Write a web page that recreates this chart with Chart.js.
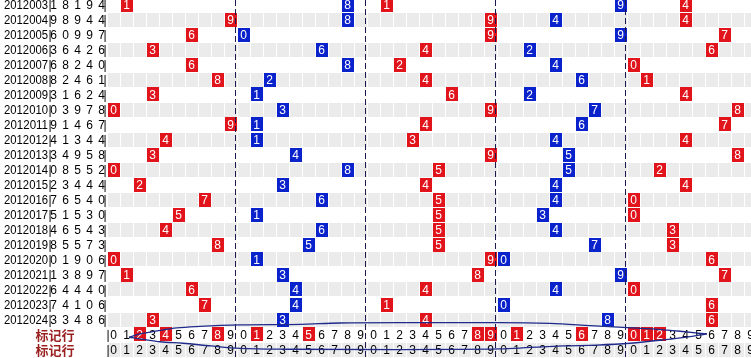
<!DOCTYPE html>
<html lang="zh">
<head>
  <meta charset="UTF-8" />
  <title>走势图</title>
  <script src="https://cdn.jsdelivr.net/npm/chart.js"></script>
  <style>
    html, body { margin: 0; padding: 0; background: #fff; }
    canvas { display: block; }
  </style>
</head>
<body>
  <canvas id="chart" width="751" height="358"></canvas>
  <script>
    // 期号 + 每期五位开奖号码
    const issues = ["2012003","2012004","2012005","2012006","2012007","2012008","2012009","2012010",
      "2012011","2012012","2012013","2012014","2012015","2012016","2012017","2012018","2012019",
      "2012020","2012021","2012022","2012023","2012024"];
    const digit1 = [1,9,6,3,6,8,3,0,9,4,3,0,2,7,5,4,8,0,1,6,7,3];
    const digit2 = [8,8,0,6,8,2,1,3,1,1,4,8,3,6,1,6,5,1,3,4,4,3];
    const digit3 = [1,9,9,4,2,4,6,9,4,3,9,5,4,5,5,5,5,9,8,4,1,4];
    const digit4 = [9,4,9,2,4,6,2,7,6,4,5,5,4,4,3,4,7,0,9,4,0,8];
    const digit5 = [4,4,7,6,0,1,4,8,7,4,8,2,4,0,0,3,3,6,7,0,6,6];
    const digitLabels = ["0","1","2","3","4","5","6","7","8","9"];
    const markLabel = "标记行";
    // 标记行里被标红的号码（每位一组）
    const markHits = [[2,4,8],[1,5],[8,9],[1,6],[0,1,2]];
    // 手画的圈（列 / 行 单位）
    const loopTopX = [1.69, 2.54, 3.85, 5.38, 7.15, 10.23, 14.85, 17.92, 22.54, 30.23, 34.08, 37.15, 39.69, 42.31, 44.08, 46.15];
    const loopTopY = [22.15, 21.93, 21.73, 21.53, 21.43, 21.33, 21.29, 21.2, 21.18, 21.18, 21.23, 21.37, 21.49, 21.62, 21.75, 21.93];
    const loopBotX = [1.69, 2.77, 4.08, 5.85, 8.0, 10.23, 13.85, 22.54, 30.23, 32.54, 35.08, 37.69, 40.23, 42.77, 44.85, 46.15];
    const loopBotY = [22.15, 22.29, 22.45, 22.55, 22.73, 22.89, 22.95, 22.97, 22.93, 22.83, 22.73, 22.67, 22.55, 22.33, 22.11, 21.93];

    const digits = [digit1, digit2, digit3, digit4, digit5];
    const RED = "#e1131b", BLUE = "#0a22cc", GRAY = "#ebebeb";
    const groupColors = [RED, BLUE, RED, BLUE, RED];
    const FONT = '12px "Liberation Sans", Arial, sans-serif';

    const gridPlugin = {
      id: "grid",
      beforeDatasetsDraw(chart) {
        const { ctx, scales: { x, y } } = chart;
        const colW = x.getPixelForValue(1) - x.getPixelForValue(0);
        const rowH = y.getPixelForValue(1) - y.getPixelForValue(0);
        const nRows = issues.length + 2;
        const rect = (c, r) => [Math.round(x.getPixelForValue(c)) + 1, Math.round(y.getPixelForValue(r - 0.5)), Math.round(colW) - 1, Math.round(rowH) - 1];
        const cx = c => x.getPixelForValue(c + 0.5);
        const cy = r => y.getPixelForValue(r) + 0.5;
        const left = x.left;
        ctx.save();
        // 隔行灰底
        ctx.fillStyle = GRAY;
        for (let r = 1; r < nRows; r += 2) {
          for (let c = 0; c < 50; c++) ctx.fillRect(...rect(c, r));
        }
        ctx.font = FONT;
        ctx.textBaseline = "middle";
        // 开奖号码方块
        ctx.textAlign = "center";
        issues.forEach((_, r) => {
          digits.forEach((arr, g) => {
            const c = g * 10 + arr[r];
            ctx.fillStyle = groupColors[g];
            ctx.fillRect(...rect(c, r));
            ctx.fillStyle = "#fff";
            ctx.fillText(String(arr[r]), cx(c), cy(r));
          });
        });
        // 标记行
        const m1 = issues.length, m2 = issues.length + 1;
        for (let g = 0; g < 5; g++) {
          digitLabels.forEach((d, i) => {
            const c = g * 10 + i;
            const hit = markHits[g].includes(i);
            if (hit) {
              ctx.fillStyle = RED;
              ctx.fillRect(...rect(c, m1));
            }
            ctx.fillStyle = hit ? "#fff" : "#000";
            ctx.fillText(d, cx(c), cy(m1));
            ctx.fillStyle = "#000";
            ctx.fillText(d, cx(c), cy(m2));
          });
        }
        // 左侧期号与号码
        issues.forEach((iss, r) => {
          ctx.fillStyle = "#000";
          ctx.textAlign = "left";
          ctx.fillText(iss, left + 4, cy(r), 44);
          ctx.textAlign = "center";
          ctx.fillText("|", left + 50, cy(r));
          digits.forEach((arr, g) => ctx.fillText(String(arr[r]), left + 53.5 + g * 12, cy(r)));
          ctx.fillText("|", left + 105, cy(r));
        });
        ctx.fillText("|", x.getPixelForValue(0) + 1, cy(m1));
        ctx.fillText("|", x.getPixelForValue(0) + 1, cy(m2));
        ctx.font = 'bold 13px "Noto Sans CJK SC", sans-serif';
        ctx.fillStyle = "#9a1f1f";
        ctx.fillText(markLabel, left + 55, cy(m1));
        ctx.fillText(markLabel, left + 55, cy(m2));
        // 分组虚线
        ctx.strokeStyle = "#1a1a50";
        ctx.lineWidth = 1;
        ctx.setLineDash([6, 3]);
        for (let g = 1; g < 5; g++) {
          const px = Math.round(x.getPixelForValue(g * 10)) - 1.5;
          ctx.beginPath();
          ctx.moveTo(px, chart.chartArea.top);
          ctx.lineTo(px, chart.chartArea.bottom);
          ctx.stroke();
        }
        ctx.restore();
      }
    };

    const toPoints = (xs, ys) => xs.map((v, i) => ({ x: v, y: ys[i] }));
    const loopStyle = {
      showLine: true, pointRadius: 0, borderColor: "#1e2b8a", borderWidth: 1.3,
      cubicInterpolationMode: "monotone", fill: false
    };

    new Chart(document.getElementById("chart").getContext("2d"), {
      type: "scatter",
      data: {
        datasets: [
          { ...loopStyle, data: toPoints(loopTopX, loopTopY) },
          { ...loopStyle, data: toPoints(loopBotX, loopBotY) }
        ]
      },
      options: {
        responsive: false,
        animation: false,
        devicePixelRatio: 1,
        layout: { padding: 0 },
        plugins: { legend: { display: false }, tooltip: { enabled: false } },
        scales: {
          x: { type: "linear", display: false, min: -107 / 13, max: 644 / 13 },
          y: { type: "linear", display: false, reverse: true, min: -1 / 3, max: 353 / 15 }
        }
      },
      plugins: [gridPlugin]
    });
  </script>
</body>
</html>
